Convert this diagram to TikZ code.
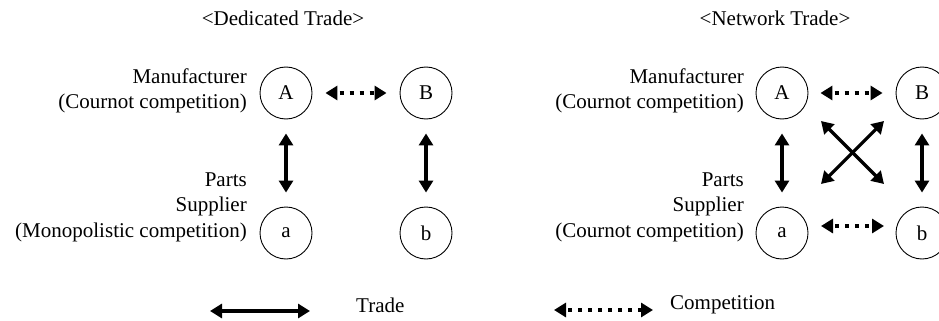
\documentclass[tikz,border=0pt]{standalone}
\usepackage{fontspec}
\setmainfont{Liberation Serif}
\usetikzlibrary{arrows.meta}
\begin{document}
\begin{tikzpicture}[x=1pt,y=-1pt,
  firm/.style={circle,draw,line width=0.9pt,minimum size=52pt,inner sep=0pt,font=\fontsize{21}{24}\selectfont},
  lbl/.style={align=right,anchor=east,inner sep=0pt,font=\fontsize{21}{25.5}\selectfont},
  txt/.style={inner sep=0pt,font=\fontsize{21}{24}\selectfont},
  trade/.style={{Triangle[length=12pt,width=14pt]}-{Triangle[length=12pt,width=14pt]},line width=3.2pt},
  comp/.style={{Triangle[length=12pt,width=14pt]}-{Triangle[length=12pt,width=14pt]},line width=4.2pt,dash pattern=on 4.2pt off 5.8pt,dash phase=-3pt},
]
\useasboundingbox (0,0) rectangle (939,321);
\clip (0,0) rectangle (939,321);
% titles
\node[txt] (t1) at (283,18) {<Dedicated Trade>};
\node[txt] (t2) at (775,18) {<Network Trade>};
% left block
\node[firm] (A1) at (286,93) {A};
\node[firm] (B1) at (426,93) {B};
\node[firm] (a1) at (286,233) {a};
\node[firm] (b1) at (426,233) {b};
\node[lbl] (m1) at (247,91) {Manufacturer\\(Cournot competition)};
\node[lbl] (p1) at (247,207) {Parts\\Supplier\\(Monopolistic competition)};
\draw[comp,shorten <=13pt,shorten >=13pt] (A1) -- (B1);
\draw[trade,shorten <=14pt,shorten >=14pt] (A1) -- (a1);
\draw[trade,shorten <=14pt,shorten >=14pt] (B1) -- (b1);
% right block
\node[firm] (A2) at (782,93) {A};
\node[firm] (B2) at (922,93) {B};
\node[firm] (a2) at (782,233) {a};
\node[firm] (b2) at (922,233) {b};
\node[lbl] (m2) at (744,91) {Manufacturer\\(Cournot competition)};
\node[lbl] (p2) at (744,207) {Parts\\Supplier\\(Cournot competition)};
\draw[comp,shorten <=12pt,shorten >=13pt] (A2) -- (B2);
\coordinate (al) at (821,226);
\coordinate (br) at (884,226);
\draw[comp] (al) -- (br);
\draw[trade,shorten <=14pt,shorten >=14pt] (A2) -- (a2);
\draw[trade,shorten <=14pt,shorten >=14pt] (B2) -- (b2);
\coordinate (x1) at (821,121);
\coordinate (x2) at (884,184);
\coordinate (x3) at (884,121);
\coordinate (x4) at (821,184);
\draw[trade] (x1) -- (x2);
\draw[trade] (x3) -- (x4);
% legend
\coordinate (lt1) at (210,311);
\coordinate (lt2) at (310,311);
\draw[trade] (lt1) -- (lt2);
\node[txt,anchor=west] (ltt) at (356,305) {Trade};
\coordinate (lc1) at (554,310);
\coordinate (lc2) at (653,310);
\draw[comp] (lc1) -- (lc2);
\node[txt,anchor=west] (lct) at (670,305) {Competition};
\end{tikzpicture}
\end{document}
